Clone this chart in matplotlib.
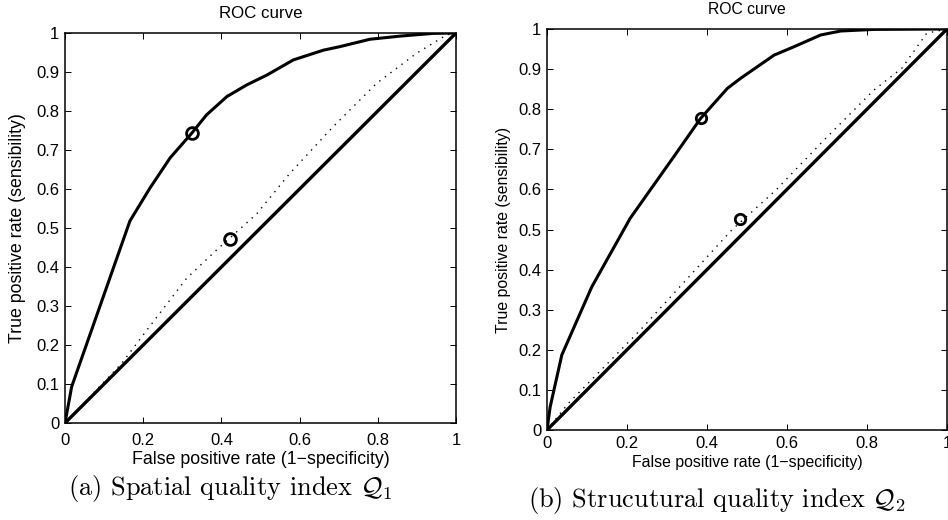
import matplotlib
matplotlib.use("Agg")
import matplotlib.pyplot as plt

plt.rcParams["font.family"] = ["Liberation Sans", "DejaVu Sans"]
plt.rcParams["mathtext.fontset"] = "cm"
plt.rcParams["lines.scale_dashes"] = False

# ROC curve, spatial quality index Q1
q1_fpr = [0.0, 0.017, 0.166, 0.217, 0.269, 0.324, 0.362, 0.414, 0.465, 0.516,
          0.584, 0.661, 0.703, 0.780, 0.857, 0.941, 1.0]
q1_tpr = [0.0, 0.093, 0.518, 0.602, 0.680, 0.743, 0.790, 0.837, 0.867, 0.892,
          0.931, 0.956, 0.965, 0.984, 0.992, 0.999, 1.0]
q1_ref_fpr = [0.0, 0.145, 0.213, 0.311, 0.388, 0.490, 0.575, 0.686, 0.797, 0.899, 0.976, 1.0]
q1_ref_tpr = [0.0, 0.153, 0.243, 0.371, 0.444, 0.536, 0.640, 0.760, 0.871, 0.948, 0.995, 1.0]
q1_points_fpr = [0.324, 0.422]
q1_points_tpr = [0.743, 0.473]

# ROC curve, structural quality index Q2
q2_fpr = [0.0, 0.008, 0.037, 0.112, 0.208, 0.318, 0.384,
          0.451, 0.484, 0.568, 0.618, 0.684, 0.734, 0.818, 1.0]
q2_tpr = [0.0, 0.058, 0.187, 0.357, 0.528, 0.683, 0.777,
          0.852, 0.877, 0.935, 0.956, 0.985, 0.995, 0.999, 1.0]
q2_ref_fpr = [0.0, 0.053, 0.233, 0.462, 0.572, 0.6925, 0.8175, 0.887, 0.949, 0.966, 1.0]
q2_ref_tpr = [0.0, 0.066, 0.249, 0.499, 0.598, 0.723, 0.848, 0.902, 0.989, 0.993, 1.0]
q2_points_fpr = [0.384, 0.482]
q2_points_tpr = [0.777, 0.525]

chance_line = [0.0, 1.0]

x_ticks = [0, 0.2, 0.4, 0.6, 0.8, 1]
x_tick_labels = ["0", "0.2", "0.4", "0.6", "0.8", "1"]
y_ticks = [0, 0.1, 0.2, 0.3, 0.4, 0.5, 0.6, 0.7, 0.8, 0.9, 1]
y_tick_labels = ["0", "0.1", "0.2", "0.3", "0.4", "0.5", "0.6", "0.7", "0.8", "0.9", "1"]

title_text = "ROC curve"
xlabel_text = "False positive rate (1\u2212specificity)"
ylabel_text = "True positive rate (sensibility)"
captions = [r"(a) Spatial quality index $\mathcal{Q}_1$",
            r"(b) Strucutural quality index $\mathcal{Q}_2$"]

W, H = 948, 520
fig = plt.figure(figsize=(W / 100, H / 100), dpi=100)


def px_axes(left, top, right, bottom):
    return fig.add_axes([left / W, 1 - bottom / H, (right - left) / W, (bottom - top) / H])


panels = [
    dict(box=(65, 33, 456, 423), fpr=q1_fpr, tpr=q1_tpr, rf=q1_ref_fpr, rt=q1_ref_tpr,
         pf=q1_points_fpr, pt=q1_points_tpr, ms=8.5, fs=12, lfs=12.8, tfs=12.2, xpad=7.5,
         title_xy=(261, 13), ylab_x=18, xlab_y=460, cap_xy=(230, 488)),
    dict(box=(547, 29, 947, 430), fpr=q2_fpr, tpr=q2_tpr, rf=q2_ref_fpr, rt=q2_ref_tpr,
         pf=q2_points_fpr, pt=q2_points_tpr, ms=7.5, fs=12, lfs=11.4, tfs=11.3, xpad=4,
         title_xy=(747, 10), ylab_x=504, xlab_y=462, cap_xy=(717, 500)),
]

for i, p in enumerate(panels):
    ax = px_axes(*p["box"])
    ax.plot(p["fpr"], p["tpr"], color="black", lw=2.2, solid_joinstyle="miter")
    ax.plot(chance_line, chance_line, color="black", lw=2.4)
    ax.plot(p["rf"], p["rt"], color="black", lw=1.0, dashes=(1.0, 4.0))
    ax.plot(p["pf"], p["pt"], linestyle="none", marker="o", ms=p["ms"],
            mfc="none", mec="black", mew=2.0)
    ax.set_xlim(0, 1)
    ax.set_ylim(0, 1)
    ax.set_xticks(x_ticks)
    ax.set_xticklabels(x_tick_labels)
    ax.set_yticks(y_ticks)
    ax.set_yticklabels(y_tick_labels)
    ax.tick_params(direction="in", length=4, width=0.7, top=True, right=True,
                   labelsize=p["fs"], pad=4)
    ax.tick_params(axis="x", pad=p["xpad"])
    for s in ax.spines.values():
        s.set_linewidth(1.1)

    tx, ty = p["title_xy"]
    fig.text(tx / W, 1 - ty / H, title_text, ha="center", va="center", fontsize=p["tfs"])
    left, top, right, bottom = p["box"]
    fig.text(p["ylab_x"] / W, 1 - (top + bottom) / 2 / H, ylabel_text, rotation=90,
             ha="center", va="center", fontsize=p["lfs"])
    fig.text((left + right) / 2 / W, 1 - p["xlab_y"] / H, xlabel_text,
             ha="center", va="center", fontsize=p["lfs"])
    cx, cy = p["cap_xy"]
    fig.text(cx / W, 1 - cy / H, captions[i], ha="center", va="center",
             fontsize=19, family="cmr10")

fig.savefig("out.png", dpi=100)
